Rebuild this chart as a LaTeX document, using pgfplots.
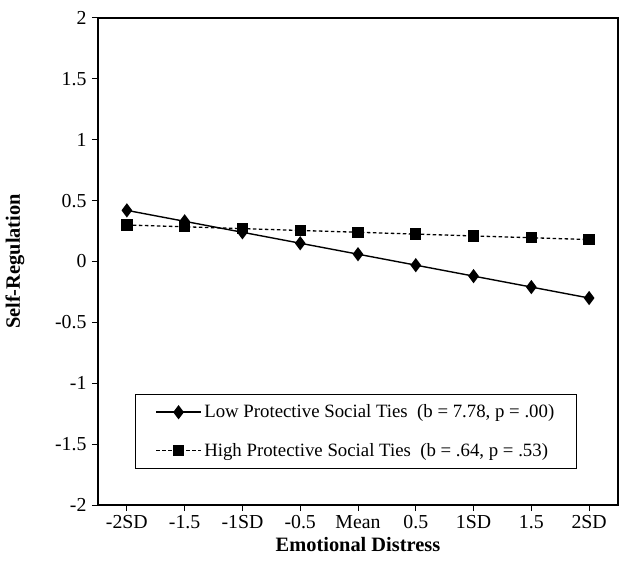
\documentclass[border=0pt]{standalone}
\usepackage{pgfplots}
\pgfplotsset{compat=1.18}
\usepackage{fontspec}
\setmainfont{Liberation Serif}
\begin{document}
\begin{tikzpicture}
\begin{axis}[
  scale only axis,
  width=520pt, height=487pt,
  xmin=-0.5, xmax=8.5,
  ymin=-2, ymax=2,
  xtick={0,1,2,3,4,5,6,7,8},
  xticklabels={-2SD,-1.5,-1SD,-0.5,Mean,0.5,1SD,1.5,2SD},
  ytick={-2,-1.5,-1,-0.5,0,0.5,1,1.5,2},
  yticklabels={-2,-1.5,-1,-0.5,0,0.5,1,1.5,2},
  tick align=outside,
  xtick pos=bottom, ytick pos=left,
  major tick length=6pt,
  tick style={black, line width=1pt},
  axis line style={line width=1.2pt},
  ticklabel style={font=\fontsize{19.8}{23}\selectfont},
  xticklabel style={yshift=-1pt},
  yticklabel style={xshift=-2pt},
  xlabel={\textbf{Emotional Distress}},
  ylabel={\textbf{Self-Regulation}},
  label style={font=\fontsize{20.4}{24}\selectfont},
  xlabel style={yshift=-1pt},
  ylabel style={yshift=24pt},
  legend image code/.code={\draw[mark repeat=2,mark phase=2,#1] plot coordinates {(0pt,0pt) (22.5pt,0pt) (45pt,0pt)};},
  legend style={at={(rel axis cs:0.071,0.074)}, anchor=south west,
    draw=black, line width=0.9pt, font=\fontsize{18.8}{22}\selectfont,
    inner xsep=20pt, inner ysep=8pt, row sep=19pt,
    nodes={inner sep=2.5pt}},
  legend cell align=left,
]
\addplot[black, line width=1.4pt, mark=diamond*, mark size=6pt, mark options={solid}]
  coordinates {(0,0.42) (1,0.33) (2,0.24) (3,0.15) (4,0.06) (5,-0.03) (6,-0.12) (7,-0.21) (8,-0.30)};
\addlegendentry{Low Protective Social Ties~~(b = 7.78, p = .00)}
\addplot[black, line width=1.3pt, dash pattern=on 3.5pt off 2.5pt, mark=square*, mark size=5pt, mark options={solid}]
  coordinates {(0,0.30) (1,0.285) (2,0.27) (3,0.255) (4,0.24) (5,0.225) (6,0.21) (7,0.195) (8,0.18)};
\addlegendentry{High Protective Social Ties~~(b = .64, p = .53)}
\end{axis}
\path (current axis.south west) ++(-98pt,-59pt);
\path (current axis.north east) ++(15pt,18pt);
\end{tikzpicture}
\end{document}
